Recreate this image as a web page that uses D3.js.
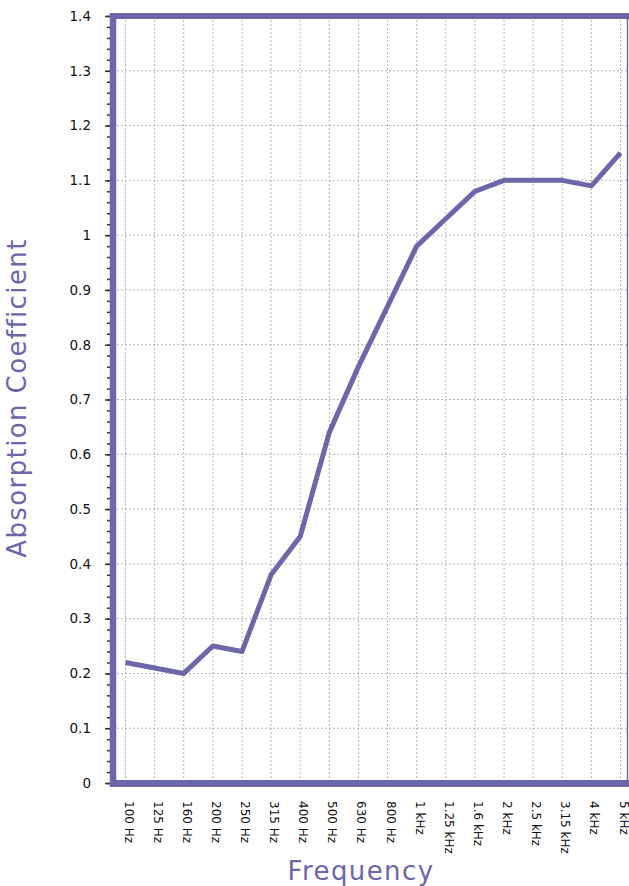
<!DOCTYPE html>
<html>
<head>
<meta charset="utf-8">
<script src="https://cdn.jsdelivr.net/npm/d3@7"></script>
<style>
    body { margin: 0; background: #fff; }
    svg { display: block; }
</style>
</head>
<body>
<svg id="chart" width="629" height="886"></svg>
<script>
// Données
const frequencies = ["100 Hz", "125 Hz", "160 Hz", "200 Hz", "250 Hz", "315 Hz", "400 Hz", "500 Hz", "630 Hz",
    "800 Hz", "1 kHz", "1.25 kHz", "1.6 kHz", "2 kHz", "2.5 kHz", "3.15 kHz", "4 kHz", "5 kHz"];
const absorption = [0.22, 0.21, 0.20, 0.25, 0.24, 0.38, 0.45, 0.64, 0.76,
    0.87, 0.98, 1.03, 1.08, 1.10, 1.10, 1.10, 1.09, 1.15];
const yTicks = [0, 0.1, 0.2, 0.3, 0.4, 0.5, 0.6, 0.7, 0.8, 0.9, 1, 1.1, 1.2, 1.3, 1.4];
const yTickLabels = ["0", "0.1", "0.2", "0.3", "0.4", "0.5", "0.6", "0.7", "0.8", "0.9", "1", "1.1", "1.2", "1.3", "1.4"];
const yMinorTicks = d3.range(0, 71).map(i => i * 0.02);

const purple = "#6c66ab";
const svg = d3.select("#chart");

// Zone du graphique
const plotLeft = 113, plotRight = 627, plotTop = 16, plotBottom = 783;

// Echelles
const xScale = d3.scalePoint()
    .domain(frequencies)
    .range([125.5, 620.5]);

const yScale = d3.scaleLinear()
    .domain([0, 1.4])
    .range([plotBottom, plotTop]);

// Grille en pointillés
svg.append("g")
    .selectAll("line")
    .data(yTicks)
    .enter().append("line")
    .attr("x1", plotLeft).attr("x2", plotRight)
    .attr("y1", d => yScale(d)).attr("y2", d => yScale(d))
    .attr("stroke", "#b4b4b4")
    .attr("stroke-width", 1)
    .attr("stroke-dasharray", "2,2");

svg.append("g")
    .selectAll("line")
    .data(frequencies)
    .enter().append("line")
    .attr("x1", d => xScale(d)).attr("x2", d => xScale(d))
    .attr("y1", plotTop).attr("y2", plotBottom)
    .attr("stroke", "#b4b4b4")
    .attr("stroke-width", 1)
    .attr("stroke-dasharray", "2,2");

// Axe y : graduations secondaires puis principales
const yMinor = svg.append("g")
    .attr("transform", "translate(110, 0)")
    .call(d3.axisLeft(yScale).tickValues(yMinorTicks).tickSize(3).tickFormat(""));
yMinor.select(".domain").remove();
yMinor.selectAll("line").attr("stroke", "#333").attr("stroke-width", 1.5);

const yAxis = svg.append("g")
    .attr("transform", "translate(110, 0)")
    .call(d3.axisLeft(yScale)
        .tickValues(yTicks)
        .tickSize(5)
        .tickPadding(14)
        .tickFormat((d, i) => yTickLabels[i]));
yAxis.select(".domain").remove();
yAxis.selectAll("line").attr("stroke", "#333").attr("stroke-width", 1.5);
yAxis.selectAll("text")
    .attr("fill", "#111")
    .style("font-size", "13.5px")
    .style("font-family", "DejaVu Sans, sans-serif");

// Axe x : étiquettes verticales
const xAxis = svg.append("g")
    .attr("transform", "translate(0, 787)")
    .call(d3.axisBottom(xScale).tickSize(0));
xAxis.select(".domain").remove();
xAxis.selectAll("text")
    .attr("transform", "rotate(90)")
    .attr("x", 14)
    .attr("y", 0)
    .attr("dy", "0.12em")
    .style("text-anchor", "start")
    .attr("fill", "#111")
    .style("font-size", "12px")
    .style("font-family", "DejaVu Sans, sans-serif");

// Cadre violet
const frame = svg.append("g").attr("stroke", purple);
frame.append("line")
    .attr("x1", plotRight + 0.5).attr("x2", plotRight + 0.5)
    .attr("y1", plotTop).attr("y2", plotBottom)
    .attr("stroke-width", 1.5);
frame.append("line")
    .attr("x1", 110).attr("x2", 629)
    .attr("y1", plotTop).attr("y2", plotTop)
    .attr("stroke-width", 6);
frame.append("line")
    .attr("x1", 110).attr("x2", 629)
    .attr("y1", plotBottom + 0.5).attr("y2", plotBottom + 0.5)
    .attr("stroke-width", 7);
frame.append("line")
    .attr("x1", plotLeft).attr("x2", plotLeft)
    .attr("y1", plotTop - 3).attr("y2", plotBottom + 4)
    .attr("stroke-width", 6.5);

// Courbe du coefficient d'absorption
const line = d3.line()
    .x((d, i) => xScale(frequencies[i]))
    .y(d => yScale(d));

svg.append("path")
    .datum(absorption)
    .attr("d", line)
    .attr("fill", "none")
    .attr("stroke", purple)
    .attr("stroke-width", 5)
    .attr("stroke-linejoin", "round");

// Titres des axes
svg.append("text")
    .attr("x", 361)
    .attr("y", 880)
    .attr("text-anchor", "middle")
    .style("fill", purple)
    .style("font-size", "26px")
    .style("letter-spacing", "1.4px")
    .style("font-family", "DejaVu Sans, sans-serif")
    .text("Frequency");

svg.append("text")
    .attr("transform", "translate(26, 398) rotate(-90)")
    .attr("text-anchor", "middle")
    .style("fill", purple)
    .style("font-size", "26px")
    .style("letter-spacing", "1.4px")
    .style("font-family", "DejaVu Sans, sans-serif")
    .text("Absorption Coefficient");
</script>
</body>
</html>
